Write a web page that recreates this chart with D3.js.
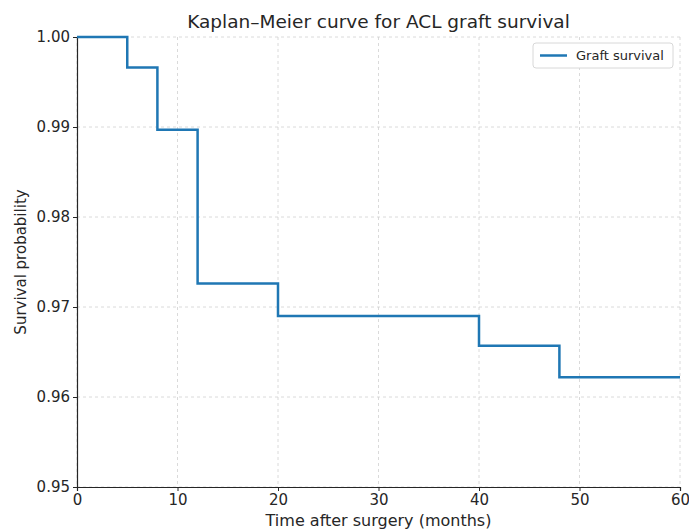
<!DOCTYPE html>
<html>
<head>
<meta charset="utf-8">
<script src="https://cdn.jsdelivr.net/npm/d3@7"></script>
<style>
  body { margin: 0; background: #fff; }
  svg text { font-family: "DejaVu Sans", sans-serif; fill: #262626; }
</style>
</head>
<body>
<div id="chart"></div>
<script>
var width = 689, height = 529,
    margin = {top: 37, bottom: 42, left: 77, right: 9};

// step times (months) and survival after each step
var times = [0, 5, 8, 12, 20, 40, 48, 60];
var survival = [1.0, 0.9966, 0.9897, 0.9726, 0.9690, 0.9657, 0.9622, 0.9622];
var xTicks = [0, 10, 20, 30, 40, 50, 60];
var yTicks = [0.95, 0.96, 0.97, 0.98, 0.99, 1.00];

var data = times.map((t, i) => ({t: t, s: survival[i]}));

var axesWidth = width - margin.left - margin.right,
    axesHeight = height - margin.top - margin.bottom;

const svg = d3.select('#chart')
    .append('svg')
    .attr('width', width)
    .attr('height', height)
    .append('g')
    .attr('transform', `translate(${margin.left},${margin.top})`);

const x = d3.scaleLinear().domain([0, 60]).range([0, axesWidth]);
const y = d3.scaleLinear().domain([0.95, 1.0]).range([axesHeight, 0]);

// grid
svg.append('g')
    .selectAll('line')
    .data(xTicks)
    .join('line')
    .attr('x1', d => x(d)).attr('x2', d => x(d))
    .attr('y1', 0).attr('y2', axesHeight)
    .attr('stroke', '#d0d0d0').attr('stroke-width', 0.8)
    .attr('stroke-dasharray', '3,3');
svg.append('g')
    .selectAll('line')
    .data(yTicks)
    .join('line')
    .attr('x1', 0).attr('x2', axesWidth)
    .attr('y1', d => y(d)).attr('y2', d => y(d))
    .attr('stroke', '#d0d0d0').attr('stroke-width', 0.8)
    .attr('stroke-dasharray', '3,3');

// axes
const xAxis = svg.append('g')
    .attr('transform', `translate(0,${axesHeight})`)
    .call(d3.axisBottom(x).tickValues(xTicks).tickSize(4).tickPadding(3).tickFormat(d3.format('d')));
const yAxis = svg.append('g')
    .call(d3.axisLeft(y).tickValues(yTicks).tickSize(4).tickPadding(3).tickFormat(d3.format('.2f')));
[xAxis, yAxis].forEach(a => {
    a.select('.domain').attr('stroke', '#262626').attr('stroke-width', 1.2);
    a.selectAll('.tick line').attr('stroke', '#262626');
    a.selectAll('text').style('font-size', '15px').attr('fill', '#262626');
});

// survival step line
svg.append('path')
    .datum(data)
    .attr('fill', 'none')
    .attr('stroke', '#1f77b4')
    .attr('stroke-width', 2.5)
    .attr('d', d3.line().curve(d3.curveStepAfter).x(d => x(d.t)).y(d => y(d.s)));

// title and labels
svg.append('text')
    .attr('x', axesWidth / 2).attr('y', -9)
    .attr('text-anchor', 'middle')
    .style('font-size', '18.5px')
    .text('Kaplan–Meier curve for ACL graft survival');
svg.append('text')
    .attr('x', axesWidth / 2).attr('y', axesHeight + 39)
    .attr('text-anchor', 'middle')
    .style('font-size', '16px')
    .text('Time after surgery (months)');
svg.append('text')
    .attr('transform', `translate(-51,${axesHeight / 2}) rotate(-90)`)
    .attr('text-anchor', 'middle')
    .style('font-size', '15px')
    .text('Survival probability');

// legend
const legend = svg.append('g').attr('transform', `translate(${axesWidth - 147},6)`);
legend.append('rect')
    .attr('width', 140).attr('height', 25).attr('rx', 3)
    .attr('fill', '#fff').attr('stroke', '#d8d8d8');
legend.append('line')
    .attr('x1', 7).attr('x2', 34).attr('y1', 12.5).attr('y2', 12.5)
    .attr('stroke', '#1f77b4').attr('stroke-width', 2.5);
legend.append('text')
    .attr('x', 43).attr('y', 17)
    .style('font-size', '13px')
    .text('Graft survival');
</script>
</body>
</html>
